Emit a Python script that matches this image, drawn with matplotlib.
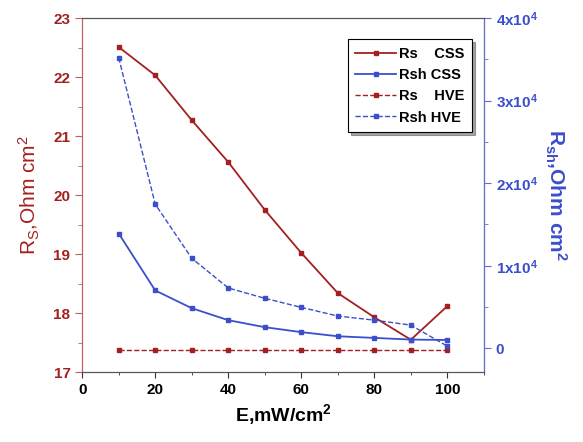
import matplotlib.pyplot as plt
from matplotlib.ticker import MultipleLocator, FixedLocator

plt.rcParams['font.family'] = ['Liberation Sans', 'DejaVu Sans']
plt.rcParams['mathtext.default'] = 'regular'

RED = "#a32020"
BLUE = "#3b4fcc"

# irradiance, mW/cm2
E = [10, 20, 30, 40, 50, 60, 70, 80, 90, 100]

# series resistance, Ohm cm2 (left axis)
rs_css = [22.51, 22.03, 21.27, 20.56, 19.75, 19.02, 18.34, 17.93, 17.55, 18.12]
rs_hve = [17.37, 17.37, 17.37, 17.37, 17.37, 17.37, 17.37, 17.37, 17.37, 17.37]

# shunt resistance, Ohm cm2 (right axis)
rsh_css = [13900, 7000, 4850, 3400, 2550, 1950, 1450, 1250, 1050, 1000]
rsh_hve = [35200, 17450, 10900, 7300, 6050, 4950, 3900, 3400, 2800, 250]

right_ticks = [0, 10000, 20000, 30000, 40000]
right_labels = ["0", r"1x10$^4$", r"2x10$^4$", r"3x10$^4$", r"4x10$^4$"]

fig = plt.figure(figsize=(5.83, 4.42), dpi=100)
ax = fig.add_axes([0.141, 0.158, 0.689, 0.801])
ax2 = ax.twinx()

l1, = ax.plot(E, rs_css, "-s", color=RED, ms=3.5, lw=1.3, label="Rs    CSS")
l3, = ax.plot(E, rs_hve, "--s", color=RED, ms=3.5, lw=1.0, label="Rs    HVE")
l2, = ax2.plot(E, rsh_css, "-s", color=BLUE, ms=3.5, lw=1.3, label="Rsh CSS")
l4, = ax2.plot(E, rsh_hve, "--s", color=BLUE, ms=3.5, lw=1.0, label="Rsh HVE")

ax.set_xlim(0, 110)
ax.set_ylim(17, 23)
ax2.set_ylim(-2900, 40000)

ax.xaxis.set_major_locator(FixedLocator([0, 20, 40, 60, 80, 100]))
ax.xaxis.set_minor_locator(MultipleLocator(10))
ax.yaxis.set_major_locator(MultipleLocator(1))
ax.yaxis.set_minor_locator(MultipleLocator(0.5))
ax2.set_yticks(right_ticks)
ax2.set_yticklabels(right_labels)
ax2.yaxis.set_minor_locator(MultipleLocator(5000))

ax.tick_params(axis="x", which="both", direction="out", colors="#333333", labelcolor="black", labelsize=11)
ax.tick_params(axis="x", which="major", length=4)
ax.tick_params(axis="x", which="minor", length=2)
ax.tick_params(axis="y", which="both", direction="out", colors="#c06060", labelcolor=RED, labelsize=11)
ax.tick_params(axis="y", which="major", length=5)
ax.tick_params(axis="y", which="minor", length=3)
ax2.tick_params(axis="y", which="both", direction="out", colors="#6070d0", labelcolor=BLUE, labelsize=11)
ax2.tick_params(axis="y", which="major", length=5)
ax2.tick_params(axis="y", which="minor", length=3)

for t in ax.get_xticklabels() + ax.get_yticklabels() + ax2.get_yticklabels():
    t.set_fontweight("bold")

ax.spines["left"].set_color("#c06060")
ax2.spines["left"].set_color("#c06060")
ax2.spines["right"].set_color("#6070d0")
for a in (ax, ax2):
    a.spines["top"].set_color("#555555")
    a.spines["bottom"].set_color("#555555")

ax.set_xlabel(r"E,mW/cm$^2$", fontsize=14, fontweight="bold", labelpad=4)
ax.set_ylabel(r"R$_S$,Ohm cm$^2$", fontsize=15, color=RED, labelpad=8)
ax2.set_ylabel(r"R$_{sh}$,Ohm cm$^2$", fontsize=15, color=BLUE, fontweight="bold",
               rotation=270, labelpad=22)

leg = ax.legend(handles=[l1, l2, l3, l4], loc="upper left", bbox_to_anchor=(0.662, 0.94),
                frameon=True, fancybox=False, shadow=True, fontsize=10.5,
                handlelength=2.8, borderpad=0.5, labelspacing=0.5, handletextpad=0.2,
                borderaxespad=0)
leg.get_frame().set_edgecolor("black")
leg.get_frame().set_linewidth(0.8)
for t in leg.get_texts():
    t.set_fontweight("bold")

fig.savefig("out.png", dpi=100)
